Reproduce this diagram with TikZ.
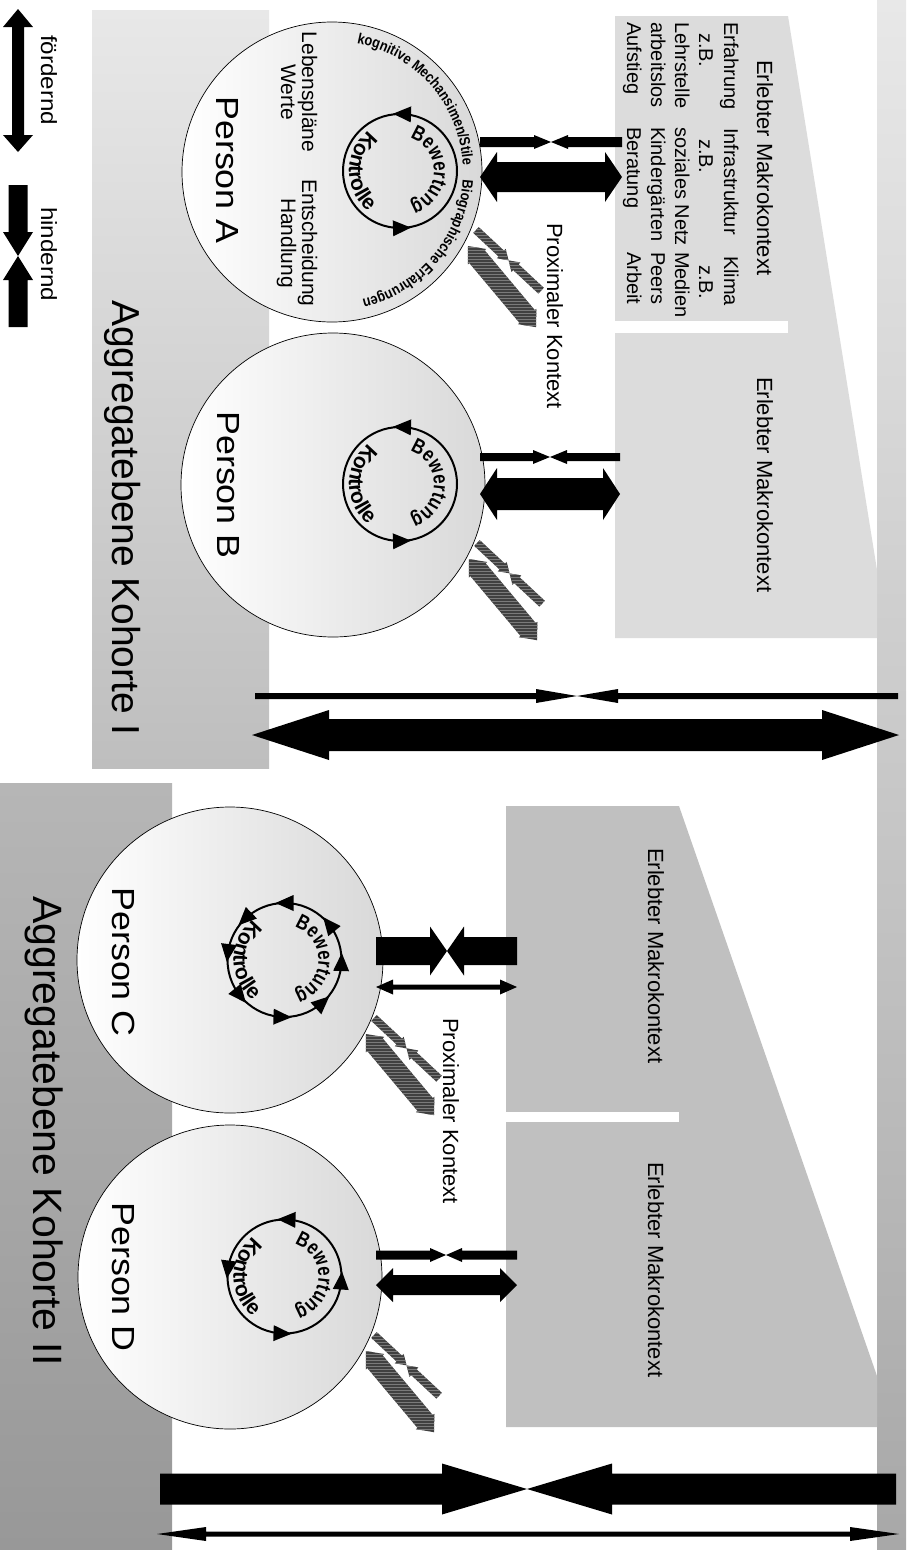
\documentclass[tikz,border=0pt]{standalone}
\usepackage{fontspec}
\setmainfont{Liberation Sans}
\newfontfamily\ringfnt[FakeStretch=0.8]{Liberation Sans}
\newfontfamily\outfnt[FakeStretch=0.85]{Liberation Sans}
\newfontfamily\personfnt[FakeStretch=1.12]{Liberation Sans}
\newfontfamily\legfnt[FakeStretch=1.1]{Liberation Sans}
\usetikzlibrary{patterns,decorations.text}
\definecolor{kIa}{HTML}{E8E8E8}
\definecolor{kIb}{HTML}{BEBEBE}
\definecolor{kIIa}{HTML}{B6B6B6}
\definecolor{kIIb}{HTML}{989898}
\definecolor{stripa}{HTML}{E8E8E8}
\definecolor{stripb}{HTML}{A8A8A8}
\definecolor{makroI}{HTML}{DCDCDC}
\definecolor{makroII}{HTML}{C0C0C0}
\definecolor{hatchdark}{HTML}{404040}
\definecolor{hatchlight}{HTML}{7A7A7A}
\newcommand\fsz[1]{\fontsize{#1}{#1}\selectfont}
\newcommand\bwfont{\ringfnt\bfseries\fsz{21}}
\newcommand\kofont{\bfseries\fsz{21}}
\newcommand\outfont{\outfnt\bfseries\fsz{15}}
% double-headed horizontal block arrow: x1, x2, y, shaft half, head half, head length
\newcommand\dbl[7][]{\fill[#1] (#2,-#4) -- (#2+#7,-#4+#6) -- (#2+#7,-#4+#5) -- (#3-#7,-#4+#5) -- (#3-#7,-#4+#6) -- (#3,-#4) -- (#3-#7,-#4-#6) -- (#3-#7,-#4-#5) -- (#2+#7,-#4-#5) -- (#2+#7,-#4-#6) -- cycle;}
% two block arrows meeting: x1, x2, xm, y, shaft half, head half, head length
\newcommand\hind[8][]{%
\fill[#1] (#2,-#5+#6) -- (#4-#8,-#5+#6) -- (#4-#8,-#5+#7) -- (#4,-#5) -- (#4-#8,-#5-#7) -- (#4-#8,-#5-#6) -- (#2,-#5-#6) -- cycle;
\fill[#1] (#3,-#5+#6) -- (#4+#8,-#5+#6) -- (#4+#8,-#5+#7) -- (#4,-#5) -- (#4+#8,-#5-#7) -- (#4+#8,-#5-#6) -- (#3,-#5-#6) -- cycle;}
\newcommand\rtip[3]{\fill[shift={(#1,#2)},rotate=#3] (57,9) -- (49,-9) -- (65,-9) -- cycle;}
\newcommand\ringtxt[2]{%
\draw[line width=2pt] (#1,#2) circle[radius=57];
\path[decorate,decoration={text along path,text align=center,text={|\bwfont|Bewertung}}] ([shift={(76:34)}]#1,#2) arc[start angle=76,end angle=-76,radius=34];
\path[decorate,decoration={text along path,text align=center,text={|\kofont|Kontrolle}}] ([shift={(110:51)}]#1,#2) arc[start angle=110,end angle=250,radius=51];}
\newcommand\hatchpair[2]{%
\begin{scope}[shift={(#1+144,-#2-58)},rotate=-43]\hind[hatch]{0}{89}{44.5}{0}{4}{6.5}{10}\end{scope}
\begin{scope}[shift={(#1+136,-#2-74)},rotate=-50]\dbl[hatch]{0}{106}{0}{10}{12}{14}\end{scope}}
\begin{document}
\begin{tikzpicture}[x=1pt,y=1pt,
  vtext/.style={rotate=-90,inner sep=0pt,outer sep=0pt},
  person/.style={circle,draw=black,line width=0.7pt,left color=white,right color=black!15,inner sep=0pt},
  hatch/.style={fill=hatchdark,postaction={pattern=horizontal lines,pattern color=hatchlight}}]
\useasboundingbox (0,0) rectangle (906,-1550);
\fill[white] (0,0) rectangle (906,-1550);
% background areas
\shade[top color=kIa,bottom color=kIb] (92,-10) rectangle (269,-768);
\shade[top color=kIIa,bottom color=kIIb] (0,-783) rectangle (172,-1550);
\shade[top color=stripa,bottom color=stripb] (877,0) rectangle (906,-1550);
\fill[makroI] (615,-16) -- (788,-16) -- (877,-570) -- (877,-638) -- (615,-638) -- cycle;
\fill[white] (615,-321) rectangle (788,-333);
\fill[makroII] (506,-806) -- (679,-806) -- (877,-1376) -- (877,-1427) -- (506,-1427) -- cycle;
\fill[white] (506,-1112) rectangle (679,-1122);
% persons
\node[person,minimum size=300pt] (pA) at (332,-172) {};
\node[person,minimum size=304pt] (pB) at (333,-485) {};
\node[person,minimum size=306pt] (pC) at (230,-960) {};
\node[person,minimum size=304pt] (pD) at (230,-1277) {};
% rings
\ringtxt{400}{-171}
\rtip{400}{-171}{88}\rtip{400}{-171}{-88}
\ringtxt{400}{-484}
\rtip{400}{-484}{88}\rtip{400}{-484}{-88}
\ringtxt{284.5}{-960}
\rtip{284.5}{-960}{90}\rtip{284.5}{-960}{134}\rtip{284.5}{-960}{173}\rtip{284.5}{-960}{219}
\rtip{284.5}{-960}{268}\rtip{284.5}{-960}{312}\rtip{284.5}{-960}{-2}\rtip{284.5}{-960}{39}
\ringtxt{284.5}{-1276.5}
\rtip{284.5}{-1276.5}{88}\rtip{284.5}{-1276.5}{173}\rtip{284.5}{-1276.5}{268}\rtip{284.5}{-1276.5}{-4}
% outer texts of person A
\path[decorate,decoration={text along path,text align=center,text={|\outfont|kognitive Mechansimen/Stile}}] ([shift={(82:131)}]332,-172) arc[start angle=82,end angle=0,radius=131];
\path[decorate,decoration={text along path,text align=center,text={|\outfont|Biographische Erfahrungen}}] ([shift={(0:131)}]332,-172) arc[start angle=0,end angle=-80,radius=131];
% texts
\node[vtext,anchor=base west,font=\legfnt\fsz{22}] (lf) at (41,-35) {fördernd};
\node[vtext,anchor=base west,font=\legfnt\fsz{22}] (lh) at (41,-207) {hindernd};
\node[vtext,anchor=base,font=\fsz{39}] (k1) at (112,-518) {Aggregatebene Kohorte I};
\node[vtext,anchor=base,font=\fsz{41}] (k2) at (33,-1131) {Aggregatebene Kohorte II};
\node[vtext,anchor=base,font=\personfnt\fsz{32}] (tA) at (216,-170) {Person A};
\node[vtext,anchor=base,font=\personfnt\fsz{32}] (tB) at (217,-485) {Person B};
\node[vtext,anchor=base,font=\personfnt\fsz{32}] (tC) at (112,-962) {Person C};
\node[vtext,anchor=base,font=\personfnt\fsz{32}] (tD) at (112,-1277) {Person D};
\node[vtext,anchor=base,font=\fsz{21}] (t1) at (302,-92) {Lebenspläne};
\node[vtext,anchor=base,font=\fsz{21}] (t2) at (281,-92) {Werte};
\node[vtext,anchor=base,font=\fsz{21}] (t3) at (302,-243) {Entscheidung};
\node[vtext,anchor=base,font=\fsz{21}] (t4) at (281,-243) {Handlung};
\node[vtext,anchor=base west,font=\fsz{22}] (mA) at (757,-60) {Erlebter Makrokontext};
\node[vtext,anchor=base west,font=\fsz{22}] (mB) at (757,-377) {Erlebter Makrokontext};
\node[vtext,anchor=base west,font=\fsz{22}] (mC) at (648,-848) {Erlebter Makrokontext};
\node[vtext,anchor=base west,font=\fsz{22}] (mD) at (648,-1162) {Erlebter Makrokontext};
\node[vtext,anchor=base west,font=\fsz{22}] (px1) at (547,-223) {Proximaler Kontext};
\node[vtext,anchor=base west,font=\fsz{22}] (px2) at (443,-1018) {Proximaler Kontext};
% box A details
\begin{scope}[every node/.style={vtext,anchor=base west,font=\fsz{20}}]
\node (b11) at (724,-22) {Erfahrung};
\node (b12) at (724,-128) {Infrastruktur};
\node (b13) at (724,-256) {Klima};
\node (b21) at (699,-33) {z.B.};
\node (b22) at (699,-139) {z.B.};
\node (b23) at (699,-265) {z.B.};
\node (b31) at (675,-22) {Lehrstelle};
\node (b32) at (675,-127) {soziales Netz};
\node (b33) at (675,-252) {Medien};
\node (b41) at (651,-22) {arbeitslos};
\node (b42) at (651,-127) {Kindergärten};
\node (b43) at (651,-252) {Peers};
\node (b51) at (627,-22) {Aufstieg};
\node (b52) at (627,-127) {Beratung};
\node (b53) at (627,-252) {Arbeit};
\end{scope}
% arrows person - makro
\hind{480}{622}{551}{142}{5}{7}{17}
\dbl{480}{622}{177}{15}{25}{17}
\hind{480}{620}{550}{457}{4}{7}{17}
\dbl{480}{620}{494}{16}{26}{17}
\hind{376}{517}{447}{951}{14}{24.5}{17}
\dbl{376}{517}{987}{2.5}{7.5}{17}
\hind{376}{517}{446}{1255}{4.5}{7}{16}
\dbl{376}{517}{1285}{10}{17}{17}
% cohort arrows
\hind{255}{898}{577}{696}{3}{7}{41}
\dbl{252}{899}{735}{16}{25}{77}
\hind{160}{896}{527}{1489}{15.5}{25.5}{85}
\dbl{157}{899}{1534}{2.5}{7}{49}
% hatched proximal arrows
\hatchpair{332}{172}
\hatchpair{333}{485}
\hatchpair{230}{960}
\hatchpair{230}{1277}
% legend
\fill (18,-9) -- (33,-27) -- (24,-27) -- (24,-135) -- (33,-135) -- (18,-152) -- (3,-135) -- (12,-135) -- (12,-27) -- (3,-27) -- cycle;
\fill (8.5,-185) -- (27.5,-185) -- (27.5,-232) -- (33,-232) -- (18,-256) -- (3,-232) -- (8.5,-232) -- cycle;
\fill (8.5,-327) -- (27.5,-327) -- (27.5,-280) -- (33,-280) -- (18,-256) -- (3,-280) -- (8.5,-280) -- cycle;
\end{tikzpicture}
\end{document}
